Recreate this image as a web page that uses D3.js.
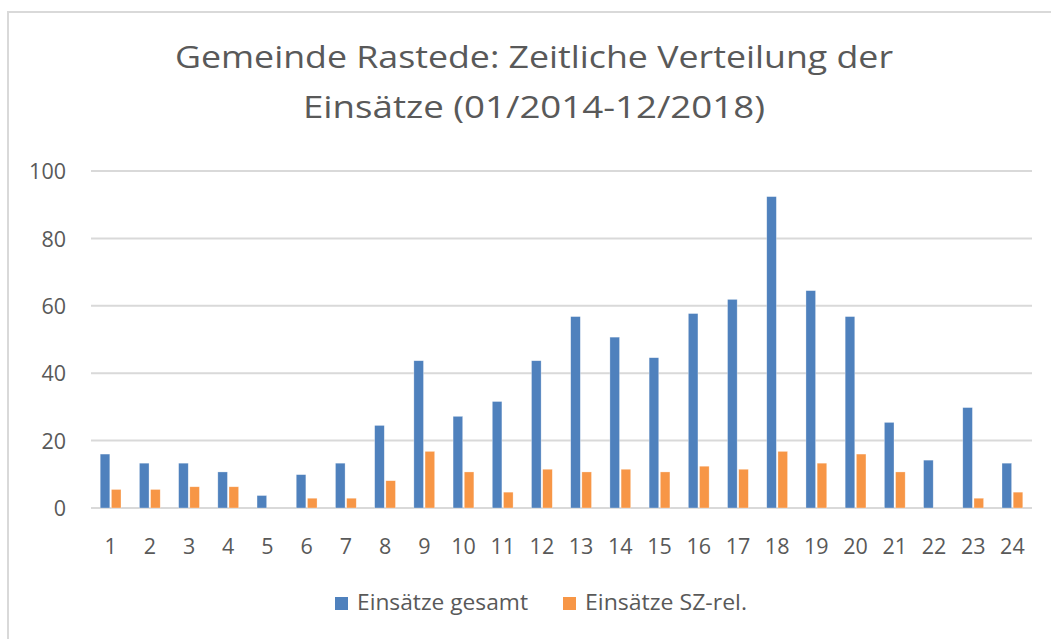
<!DOCTYPE html>
<html>
<head>
<meta charset="utf-8">
<script src="https://cdn.jsdelivr.net/npm/d3@7"></script>
<style>
  html, body { margin: 0; padding: 0; background: #fff; }
  svg { display: block; }
  text { font-family: "Open Sans", sans-serif; fill: #595959; }
</style>
</head>
<body>
<svg id="chart" width="1051" height="639"></svg>
<script>
const titleLines = ["Gemeinde Rastede: Zeitliche Verteilung der", "Einsätze (01/2014-12/2018)"];
const categories = ["1","2","3","4","5","6","7","8","9","10","11","12","13","14","15","16","17","18","19","20","21","22","23","24"];
const seriesNames = ["Einsätze gesamt", "Einsätze SZ-rel."];
const gesamt = [16, 13.3, 13.3, 10.7, 3.7, 9.9, 13.3, 24.5, 43.7, 27.2, 31.6, 43.7, 56.8, 50.7, 44.6, 57.7, 61.9, 92.4, 64.5, 56.8, 25.4, 14.2, 29.8, 13.3];
const szRel = [5.5, 5.5, 6.3, 6.3, 0, 2.9, 2.9, 8.1, 16.8, 10.7, 4.7, 11.5, 10.7, 11.5, 10.7, 12.4, 11.5, 16.8, 13.3, 16.0, 10.7, 0, 2.9, 4.7];
const yTicks = [0, 20, 40, 60, 80, 100];
const colors = ["#4F81BD", "#F79646"];

const svg = d3.select("#chart");

// outer frame
svg.append("rect")
  .attr("x", 8).attr("y", 12).attr("width", 1100).attr("height", 700)
  .attr("fill", "#fff").attr("stroke", "#d9d9d9").attr("stroke-width", 2);

// title
const titleWidths = [718, 462];
svg.append("g").selectAll("text").data(titleLines).join("text")
  .attr("x", 534).attr("y", (d, i) => 68 + i * 50)
  .attr("text-anchor", "middle")
  .attr("textLength", (d, i) => titleWidths[i])
  .attr("lengthAdjust", "spacingAndGlyphs")
  .style("font-size", "31px")
  .text(d => d);

const left = 91, right = 1032;
const y = d3.scaleLinear().domain([0, 100]).range([508, 171]);
const x0 = d3.scaleBand().domain(categories).range([left, right]).padding(0);
const x1 = d3.scaleBand().domain([0, 1]).range([-10.4, 10.4]).paddingInner(0.14);

// gridlines
svg.append("g").selectAll("line").data(yTicks).join("line")
  .attr("x1", left).attr("x2", right)
  .attr("y1", d => y(d)).attr("y2", d => y(d))
  .attr("stroke", "#d9d9d9").attr("stroke-width", 2);

// y labels
const yAxis = d3.axisLeft(y).tickValues(yTicks).tickSize(0).tickPadding(0);
const yg = svg.append("g").attr("transform", "translate(66,0)").call(yAxis);
yg.select(".domain").remove();
yg.selectAll("text")
  .attr("dy", "0.36em")
  .style("font-size", "21.5px").style("font-family", "'Open Sans', sans-serif").attr("fill", "#595959");

// bars
const rows = categories.map((c, i) => ({ c, vals: [gesamt[i], szRel[i]] }));
const groups = svg.append("g").selectAll("g").data(rows).join("g")
  .attr("transform", d => `translate(${x0(d.c) + x0.bandwidth() / 2},0)`);
groups.selectAll("rect").data(d => d.vals.map((v, k) => ({ v, k }))).join("rect")
  .attr("x", d => x1(d.k))
  .attr("width", x1.bandwidth())
  .attr("y", d => y(d.v))
  .attr("height", d => y(0) - y(d.v))
  .attr("fill", d => colors[d.k])
  .attr("stroke", "#ffffff").attr("stroke-opacity", 0.5).attr("stroke-width", 0.6);

// x labels
const xAxis = d3.axisBottom(x0).tickSize(0).tickPadding(0);
const xg = svg.append("g").attr("transform", "translate(0,554)").call(xAxis);
xg.select(".domain").remove();
xg.selectAll("text")
  .attr("y", 0).attr("dy", 0)
  .style("font-size", "21.5px").style("font-family", "'Open Sans', sans-serif").attr("fill", "#595959");

// legend
const legendX = [335, 563];
const legendW = [171, 162];
const lg = svg.append("g").selectAll("g").data(seriesNames).join("g")
  .attr("transform", (d, i) => `translate(${legendX[i]},0)`);
lg.append("rect").attr("x", 0).attr("y", 597).attr("width", 13).attr("height", 13)
  .attr("fill", (d, i) => colors[i]);
lg.append("text").attr("x", 22).attr("y", 610)
  .attr("textLength", (d, i) => legendW[i])
  .attr("lengthAdjust", "spacingAndGlyphs")
  .style("font-size", "21px")
  .text(d => d);
</script>
</body>
</html>
